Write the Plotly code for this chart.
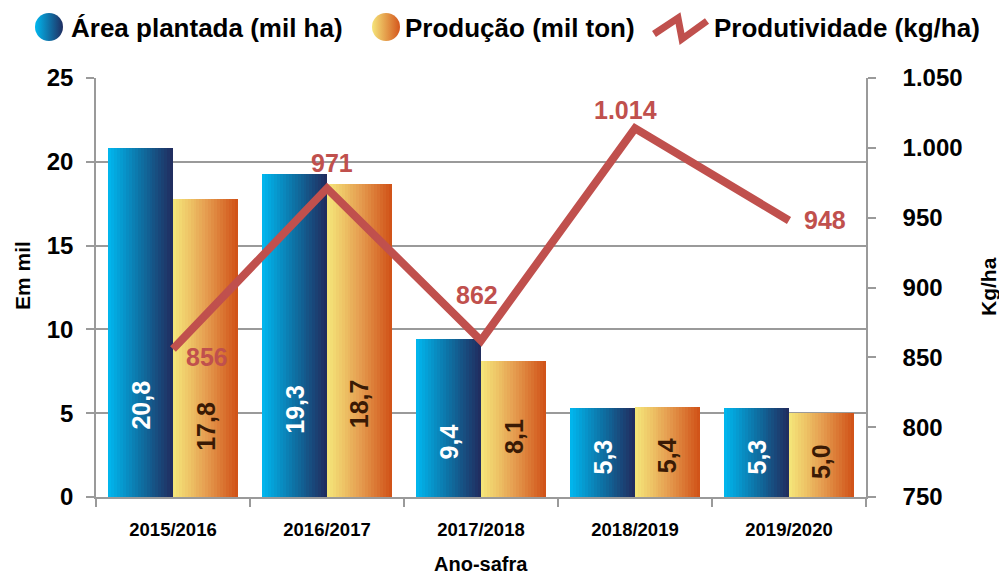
import plotly.graph_objects as go

# ---------------- data ----------------
seasons = ["2015/2016", "2016/2017", "2017/2018", "2018/2019", "2019/2020"]
area = [20.8, 19.3, 9.4, 5.3, 5.3]            # Área plantada (mil ha)
production = [17.8, 18.7, 8.1, 5.4, 5.0]      # Produção (mil ton)
productivity = [856, 971, 862, 1014, 948]     # Produtividade (kg/ha)

left_ticks = [0, 5, 10, 15, 20, 25]
right_ticks = [750, 800, 850, 900, 950, 1000, 1050]

# ---------------- styles / layout constants ----------------
W, H = 1007, 576
OX, OY = 8, 8          # page body margin compensation
RED = "#C0504D"
GRAY = "#9A9A9A"
FONT = "Liberation Sans, Arial, sans-serif"
BLUE_STOPS = [(0, 184, 240), (14, 112, 163), (33, 43, 93)]
ORANGE_STOPS = [(245, 231, 122), (230, 160, 82), (208, 80, 22)]
BAR_W = 0.419
N = 22

# plot-area edges in screen pixels
PL, PR, PT, PB = 96, 866, 78, 497

# label placement (layout, not data)
area_label_y = [5.5, 5.25, 3.3, 2.4, 2.4]
prod_label_y = [4.2, 5.55, 3.6, 2.45, 2.1]
prodv_label_shift = [(11, -8, "left"), (5, 25, "center"), (-4, 46, "center"),
                     (-10, 18, "center"), (13, 0, "left")]


def interp(stops, t):
    if t <= 0.5:
        a, b, u = stops[0], stops[1], t / 0.5
    else:
        a, b, u = stops[1], stops[2], (t - 0.5) / 0.5
    return "#%02x%02x%02x" % tuple(int(round(a[k] + (b[k] - a[k]) * u)) for k in range(3))


def br(v):
    return f"{v:.1f}".replace(".", ",")


def thousands(v):
    return f"{v:,}".replace(",", ".")


fig = go.Figure()

# gradient bars built from thin strips
for vals, stops, base in [(area, BLUE_STOPS, -BAR_W), (production, ORANGE_STOPS, 0.0)]:
    sw = BAR_W / N
    for j in range(N):
        t = (j + 0.5) / N
        fig.add_trace(go.Bar(
            x=seasons, y=vals, offset=base + j * sw,
            width=sw * 1.4 if j < N - 1 else sw,
            marker=dict(color=interp(stops, t), line=dict(width=0)),
            hoverinfo="skip", showlegend=False,
        ))

# productivity line
fig.add_trace(go.Scatter(
    x=seasons, y=productivity, yaxis="y2", mode="lines",
    line=dict(color=RED, width=8), showlegend=False,
))

# legend icons on a hidden screen-pixel axis covering the whole figure
fig.add_trace(go.Scatter(
    x=[49, 386], y=[27, 27], xaxis="x3", yaxis="y3", mode="markers",
    marker=dict(size=28, color=["#00B8F0", "#F5E57A"],
                gradient=dict(type="horizontal", color=["#1F2D60", "#D4561C"]),
                line=dict(width=0)),
    hoverinfo="skip", showlegend=False, cliponaxis=False,
))

annotations = []
for i, s in enumerate(seasons):
    annotations.append(dict(x=i - BAR_W / 2, y=area_label_y[i], xref="x", yref="y",
                            text=br(area[i]), textangle=-90, showarrow=False,
                            font=dict(family=FONT, size=25, color="white", weight="bold")))
    annotations.append(dict(x=i + BAR_W / 2, y=prod_label_y[i], xref="x", yref="y",
                            text=br(production[i]), textangle=-90, showarrow=False,
                            font=dict(family=FONT, size=25, color="#3A1A05", weight="bold")))
    dx, dy, anc = prodv_label_shift[i]
    annotations.append(dict(x=i, y=productivity[i], xref="x", yref="y2",
                            text=thousands(productivity[i]), showarrow=False,
                            xanchor=anc, yanchor="middle", xshift=dx, yshift=dy,
                            font=dict(family=FONT, size=25, color=RED, weight="bold")))

# legend texts
for txt, px in [("Área plantada (mil ha)", 69), ("Produção (mil ton)", 403),
                ("Produtividade (kg/ha)", 712)]:
    annotations.append(dict(x=px, y=28, xref="x3", yref="y3", text=txt, showarrow=False,
                            xanchor="left", yanchor="middle",
                            font=dict(family=FONT, size=26, color="black", weight="bold")))

# axis titles
annotations.append(dict(x=22, y=276, xref="x3", yref="y3", text="Em mil", textangle=-90,
                        showarrow=False, font=dict(family=FONT, size=21, color="black", weight="bold")))
annotations.append(dict(x=988, y=287, xref="x3", yref="y3", text="Kg/ha", textangle=-90,
                        showarrow=False, font=dict(family=FONT, size=21, color="black", weight="bold")))
annotations.append(dict(x=481, y=564, xref="x3", yref="y3", text="Ano-safra",
                        showarrow=False, font=dict(family=FONT, size=20, color="black", weight="bold")))

shapes = [dict(type="path", xref="x3", yref="y3",
               path="M654,34 L678,18 L682,39 L707,21",
               line=dict(color=RED, width=7))]

fig.update_layout(
    width=W, height=H,
    margin=dict(l=0, r=0, t=0, b=0, autoexpand=False),
    paper_bgcolor="white", plot_bgcolor="rgba(0,0,0,0)",
    barmode="overlay", bargap=0,
    separators=",.",
    showlegend=False,
    font=dict(family=FONT, color="black"),
    xaxis=dict(domain=[(PL - OX) / W, (PR - OX) / W], type="category", range=[-0.5, 4.5],
               tickson="boundaries", ticks="outside", ticklen=8, tickcolor=GRAY,
               tickwidth=1.5, showline=True, linecolor=GRAY, linewidth=1.5,
               showgrid=False, ticklabelstandoff=15, automargin=False,
               tickfont=dict(family=FONT, size=18.5, color="black", weight="bold"),
               anchor="y", fixedrange=True),
    yaxis=dict(domain=[(H - (PB - OY)) / H, (H - (PT - OY)) / H], range=[0, 25],
               tickvals=left_ticks,
               ticks="outside", ticklen=8, tickcolor=GRAY, tickwidth=1.5,
               showline=True, linecolor=GRAY, linewidth=1.5,
               showgrid=True, gridcolor=GRAY, gridwidth=1.5, zeroline=False,
               ticklabelstandoff=8, automargin=False,
               tickfont=dict(family=FONT, size=24, color="black", weight="bold"),
               anchor="x", fixedrange=True),
    yaxis2=dict(overlaying="y", side="right", range=[750, 1050], tickvals=right_ticks,
                tickformat=",d", ticks="outside", ticklen=8, tickcolor=GRAY, tickwidth=1.5,
                showline=True, linecolor=GRAY, linewidth=1.5, showgrid=False, zeroline=False,
                ticklabelstandoff=22, automargin=False,
                tickfont=dict(family=FONT, size=24, color="black", weight="bold"),
                anchor="x", fixedrange=True),
    xaxis3=dict(domain=[0, 1], range=[OX, W + OX], visible=False, fixedrange=True,
                anchor="y3", automargin=False),
    yaxis3=dict(domain=[0, 1], range=[H + OY, OY], visible=False, fixedrange=True,
                anchor="x3", automargin=False),
    annotations=annotations,
    shapes=shapes,
)

fig.write_html("out.html")
